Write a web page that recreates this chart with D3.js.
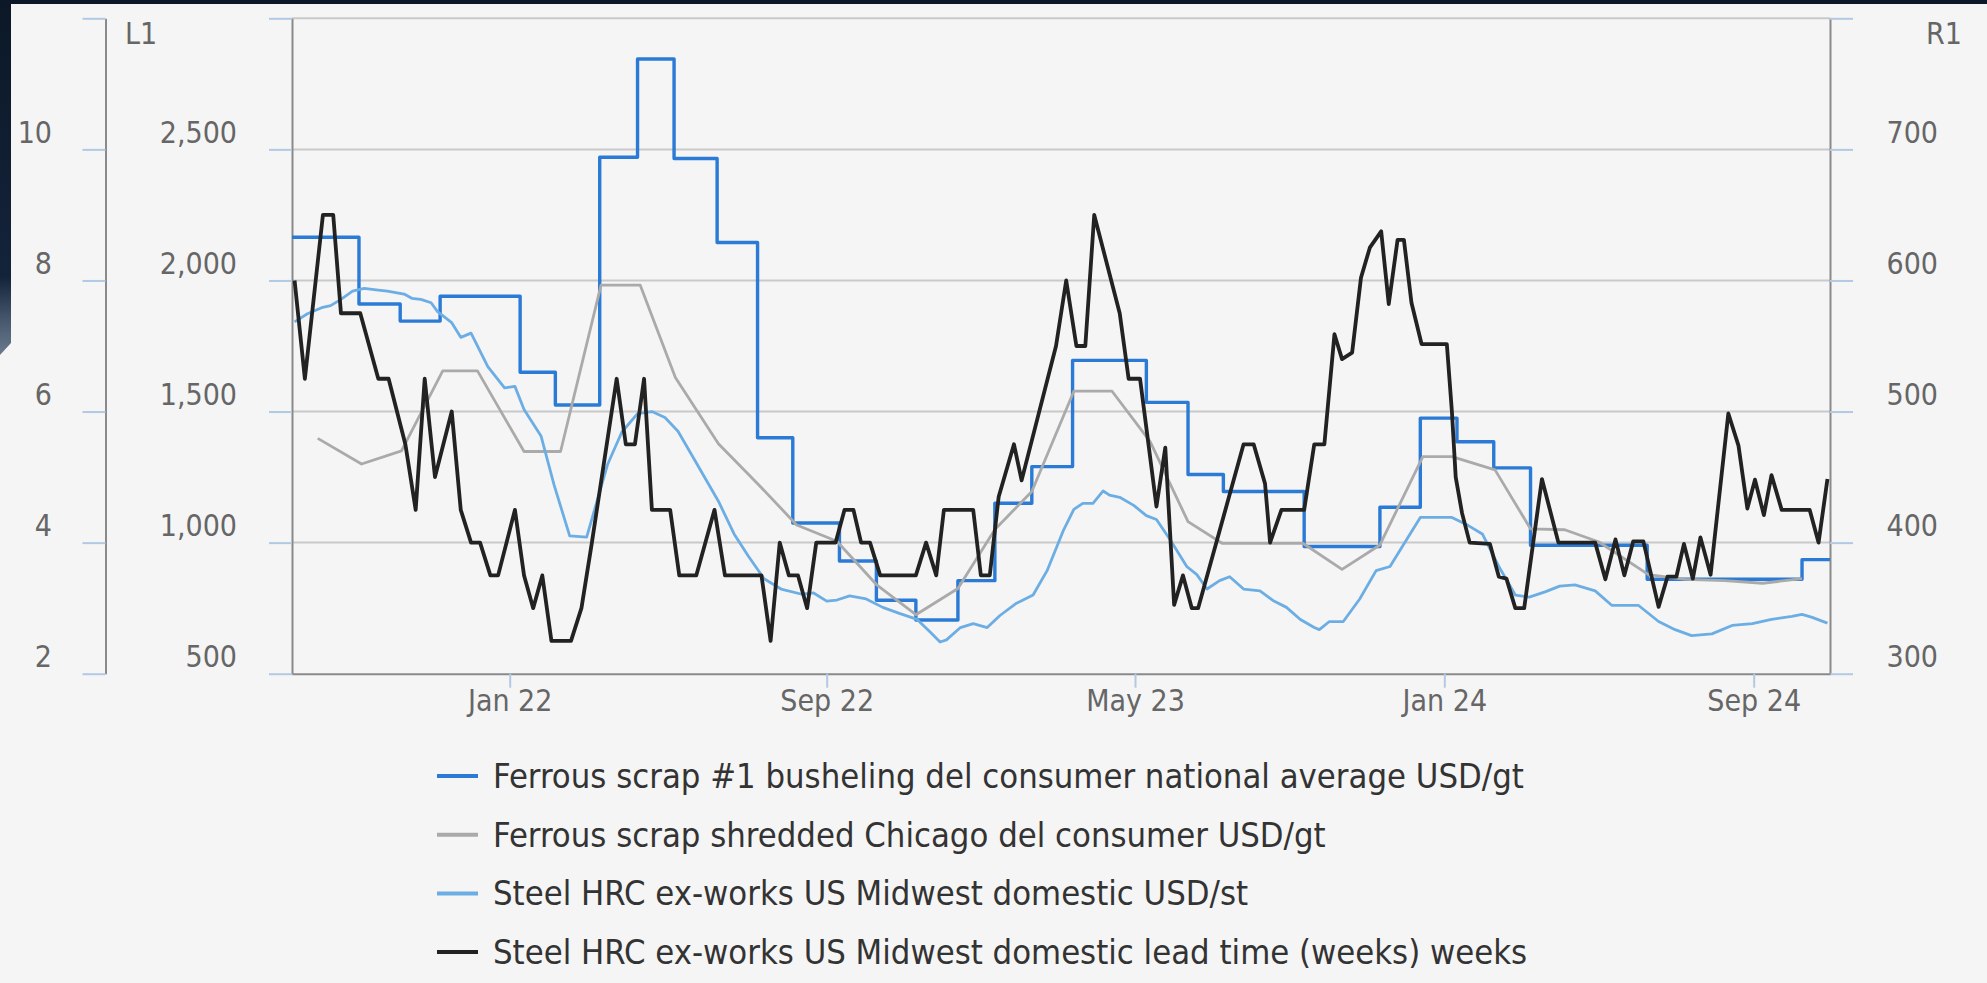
<!DOCTYPE html>
<html lang="en">
<head>
<meta charset="utf-8">
<title>Ferrous scrap vs steel HRC</title>
<script src="https://d3js.org/d3.v7.min.js"></script>
<style>
  body { margin: 0; background: #0c1827; overflow: hidden; }
  #chart { position: absolute; left: 0; top: 0; }
  svg text { font-family: "DejaVu Sans Condensed", "DejaVu Sans", sans-serif; font-stretch: condensed; }
</style>
</head>
<body>
<div id="chart"></div>
<script>
// ---- data ----
const xTicks = ["2022-01-01", "2022-09-01", "2023-05-01", "2024-01-01", "2024-09-01"];
const weekTicks = [2, 4, 6, 8, 10, 12];
const leftTicks = [500, 1000, 1500, 2000, 2500, 3000];
const rightTicks = [300, 400, 500, 600, 700, 800];

// Ferrous scrap #1 busheling, USD/gt (R1), monthly settle
const busheling = [
  ["2021-07-16", 633], ["2021-09-06", 582], ["2021-10-08", 569], ["2021-11-08", 588],
  ["2022-01-09", 530], ["2022-02-05", 505], ["2022-03-11", 694], ["2022-04-09", 769],
  ["2022-05-07", 693], ["2022-06-09", 629], ["2022-07-10", 480], ["2022-08-06", 415],
  ["2022-09-11", 386], ["2022-10-10", 356], ["2022-11-10", 341], ["2022-12-13", 371],
  ["2023-01-11", 430], ["2023-02-09", 458], ["2023-03-13", 539], ["2023-05-10", 507],
  ["2023-06-12", 452], ["2023-07-10", 439], ["2023-09-12", 397], ["2023-11-11", 427],
  ["2023-12-13", 495], ["2024-01-11", 477], ["2024-02-09", 457], ["2024-03-09", 398],
  ["2024-06-09", 372], ["2024-10-09", 387], ["2024-10-31", 387]
];

// Ferrous scrap shredded Chicago, USD/gt (R1)
const shredded = [
  ["2021-08-05", 479.5], ["2021-09-08", 460], ["2021-10-09", 470], ["2021-11-10", 531],
  ["2021-12-07", 531], ["2022-01-12", 469.5], ["2022-02-09", 469.5], ["2022-03-12", 596.5],
  ["2022-04-11", 596.5], ["2022-05-08", 526], ["2022-06-10", 475.5], ["2022-07-11", 444],
  ["2022-08-09", 413.5], ["2022-09-09", 401], ["2022-10-10", 368], ["2022-11-10", 345],
  ["2022-12-13", 365], ["2023-01-11", 410], ["2023-02-09", 439], ["2023-03-14", 515.5],
  ["2023-04-13", 515.5], ["2023-05-13", 477], ["2023-06-12", 416], ["2023-07-09", 399.5],
  ["2023-08-10", 399.5], ["2023-09-11", 399.5], ["2023-10-12", 379.6], ["2023-11-11", 398.2],
  ["2023-12-15", 465.6], ["2024-01-07", 465.6], ["2024-02-10", 455.5], ["2024-03-09", 410.5],
  ["2024-04-05", 409.8], ["2024-05-02", 400.5], ["2024-06-10", 375.6], ["2024-07-09", 372],
  ["2024-08-09", 371], ["2024-09-08", 369], ["2024-10-09", 372.5]
];

// Steel HRC ex-works US Midwest domestic, USD/st (L1)
const hrc = [
  ["2021-07-18", 1842], ["2021-07-28", 1873], ["2021-08-08", 1896], ["2021-08-15", 1904],
  ["2021-08-23", 1928], ["2021-09-01", 1959], ["2021-09-10", 1970], ["2021-09-21", 1963],
  ["2021-09-28", 1959], ["2021-10-11", 1948], ["2021-10-17", 1932], ["2021-10-24", 1928],
  ["2021-11-01", 1915], ["2021-11-06", 1881], ["2021-11-17", 1839], ["2021-11-24", 1783],
  ["2021-12-02", 1799], ["2021-12-15", 1671], ["2021-12-28", 1590], ["2022-01-05", 1596],
  ["2022-01-12", 1508], ["2022-01-25", 1407], ["2022-02-04", 1220], ["2022-02-16", 1026],
  ["2022-03-01", 1021], ["2022-03-08", 1142], ["2022-03-17", 1298], ["2022-03-28", 1422],
  ["2022-04-09", 1492], ["2022-04-20", 1500], ["2022-04-30", 1477], ["2022-05-10", 1425],
  ["2022-05-23", 1313], ["2022-06-10", 1158], ["2022-06-22", 1033], ["2022-07-03", 948],
  ["2022-07-15", 862], ["2022-07-28", 823], ["2022-08-13", 803], ["2022-08-22", 808],
  ["2022-09-01", 777], ["2022-09-09", 781], ["2022-09-19", 797], ["2022-10-02", 785],
  ["2022-10-15", 753], ["2022-10-28", 730], ["2022-11-11", 707], ["2022-11-21", 660],
  ["2022-11-29", 621], ["2022-12-04", 629], ["2022-12-15", 676], ["2022-12-25", 691],
  ["2023-01-05", 676], ["2023-01-15", 722], ["2023-01-28", 769], ["2023-02-10", 800],
  ["2023-02-21", 893], ["2023-03-06", 1049], ["2023-03-14", 1127], ["2023-03-21", 1150],
  ["2023-03-29", 1150], ["2023-04-06", 1197], ["2023-04-11", 1181], ["2023-04-19", 1173],
  ["2023-04-30", 1142], ["2023-05-10", 1103], ["2023-05-18", 1088], ["2023-05-29", 1010],
  ["2023-06-11", 909], ["2023-06-19", 878], ["2023-06-27", 823], ["2023-07-07", 855],
  ["2023-07-15", 870], ["2023-07-26", 823], ["2023-08-08", 816], ["2023-08-19", 777],
  ["2023-08-29", 753], ["2023-09-09", 707], ["2023-09-20", 676], ["2023-09-24", 668],
  ["2023-10-02", 699], ["2023-10-13", 699], ["2023-10-26", 785], ["2023-11-08", 893],
  ["2023-11-19", 909], ["2023-11-29", 987], ["2023-12-13", 1096], ["2024-01-07", 1096],
  ["2024-01-20", 1065], ["2024-01-31", 1033], ["2024-02-13", 909], ["2024-02-26", 800],
  ["2024-03-08", 792], ["2024-03-21", 813], ["2024-04-01", 834], ["2024-04-13", 839],
  ["2024-04-29", 816], ["2024-05-12", 761], ["2024-06-02", 761], ["2024-06-18", 699],
  ["2024-07-01", 668], ["2024-07-14", 645], ["2024-07-30", 652], ["2024-08-15", 684],
  ["2024-08-31", 691], ["2024-09-15", 707], ["2024-10-01", 719], ["2024-10-09", 726],
  ["2024-10-17", 715], ["2024-10-29", 693]
];

// Steel HRC lead time, weeks (outer left axis)
const leadTime = [
  ["2021-07-18", 8.0], ["2021-07-26", 6.5], ["2021-08-09", 9.0], ["2021-08-17", 9.0],
  ["2021-08-23", 7.5], ["2021-09-07", 7.5], ["2021-09-21", 6.5], ["2021-09-29", 6.5],
  ["2021-10-12", 5.5], ["2021-10-20", 4.5], ["2021-10-27", 6.5], ["2021-11-04", 5.0],
  ["2021-11-17", 6.0], ["2021-11-24", 4.5], ["2021-12-02", 4.0], ["2021-12-09", 4.0],
  ["2021-12-17", 3.5], ["2021-12-23", 3.5], ["2022-01-05", 4.5], ["2022-01-12", 3.5],
  ["2022-01-19", 3.0], ["2022-01-26", 3.5], ["2022-02-02", 2.5], ["2022-02-17", 2.5],
  ["2022-02-25", 3.0], ["2022-03-05", 4.0], ["2022-03-24", 6.5], ["2022-03-31", 5.5],
  ["2022-04-07", 5.5], ["2022-04-14", 6.5], ["2022-04-20", 4.5], ["2022-05-04", 4.5],
  ["2022-05-11", 3.5], ["2022-05-24", 3.5], ["2022-06-07", 4.5], ["2022-06-15", 3.5],
  ["2022-07-13", 3.5], ["2022-07-20", 2.5], ["2022-07-27", 4.0], ["2022-08-03", 3.5],
  ["2022-08-10", 3.5], ["2022-08-17", 3.0], ["2022-08-24", 4.0], ["2022-09-08", 4.0],
  ["2022-09-15", 4.5], ["2022-09-22", 4.5], ["2022-09-28", 4.0], ["2022-10-05", 4.0],
  ["2022-10-13", 3.5], ["2022-11-10", 3.5], ["2022-11-18", 4.0], ["2022-11-26", 3.5],
  ["2022-12-02", 4.5], ["2022-12-25", 4.5], ["2022-12-31", 3.5], ["2023-01-07", 3.5],
  ["2023-01-14", 4.7], ["2023-01-26", 5.5], ["2023-02-01", 4.95], ["2023-02-28", 7.0],
  ["2023-03-08", 8.0], ["2023-03-16", 7.0], ["2023-03-23", 7.0], ["2023-03-30", 9.0],
  ["2023-04-19", 7.5], ["2023-04-26", 6.5], ["2023-05-05", 6.5], ["2023-05-18", 4.55],
  ["2023-05-25", 5.45], ["2023-06-01", 3.05], ["2023-06-08", 3.5], ["2023-06-15", 3.0],
  ["2023-06-20", 3.0], ["2023-07-26", 5.5], ["2023-08-03", 5.5], ["2023-08-12", 4.9],
  ["2023-08-16", 4.0], ["2023-08-25", 4.5], ["2023-09-12", 4.5], ["2023-09-20", 5.5],
  ["2023-09-28", 5.5], ["2023-10-06", 7.18], ["2023-10-12", 6.8], ["2023-10-20", 6.9],
  ["2023-10-27", 8.04], ["2023-11-03", 8.5], ["2023-11-12", 8.75], ["2023-11-18", 7.64],
  ["2023-11-25", 8.62], ["2023-11-30", 8.62], ["2023-12-06", 7.66], ["2023-12-14", 7.03],
  ["2024-01-03", 7.03], ["2024-01-07", 6.0], ["2024-01-10", 5.0], ["2024-01-15", 4.45],
  ["2024-01-21", 4.0], ["2024-02-06", 3.98], ["2024-02-13", 3.48], ["2024-02-19", 3.45],
  ["2024-02-26", 3.0], ["2024-03-04", 3.0], ["2024-03-18", 4.97], ["2024-03-31", 4.0],
  ["2024-04-29", 4.0], ["2024-05-07", 3.44], ["2024-05-15", 4.05], ["2024-05-22", 3.5],
  ["2024-05-29", 4.02], ["2024-06-06", 4.02], ["2024-06-18", 3.02], ["2024-06-25", 3.48],
  ["2024-07-02", 3.48], ["2024-07-08", 3.98], ["2024-07-15", 3.45], ["2024-07-21", 4.08],
  ["2024-07-29", 3.51], ["2024-08-12", 5.97], ["2024-08-20", 5.48], ["2024-08-27", 4.52],
  ["2024-09-02", 4.96], ["2024-09-09", 4.42], ["2024-09-15", 5.03], ["2024-09-23", 4.5],
  ["2024-10-15", 4.5], ["2024-10-22", 4.0], ["2024-10-29", 4.97]
];

const seriesNames = [
  "Ferrous scrap #1 busheling del consumer national average USD/gt",
  "Ferrous scrap shredded Chicago del consumer USD/gt",
  "Steel HRC ex-works US Midwest domestic USD/st",
  "Steel HRC ex-works US Midwest domestic lead time (weeks) weeks"
];
const colors = ["#2b7bd6", "#aaaaaa", "#6caee4", "#222222"];

// ---- layout ----
const W = 1987, H = 983;
const plot = { left: 292, right: 1830, top: 18.3, bottom: 673.7 };
const tickFont = 30;

const parse = d3.utcParse("%Y-%m-%d");

// the source axis is not quite linear in time, so the time scale is pinned at its labelled ticks
const x = d3.scaleUtc()
  .domain(["2021-07-16", ...xTicks, "2024-10-31"].map(parse))
  .range([plot.left, 509.7, 826.7, 1135, 1444.3, 1753.7, plot.right]);
const yW = d3.scaleLinear().domain([2, 12]).range([plot.bottom, plot.top]);
const yL = d3.scaleLinear().domain([500, 3000]).range([plot.bottom, plot.top]);
const yR = d3.scaleLinear().domain([300, 800]).range([plot.bottom, plot.top]);

const svg = d3.select("#chart").append("svg")
  .attr("width", W).attr("height", H);

// page backdrop: light panel, dark strip down the top of the left edge
const grad = svg.append("defs").append("linearGradient")
  .attr("id", "edge").attr("x1", 0).attr("x2", 0).attr("y1", 0).attr("y2", 1);
grad.selectAll("stop")
  .data([[0, "#0c1827"], [0.78, "#13233a"], [0.9, "#46576d"], [1, "#6b7a8d"]])
  .join("stop")
  .attr("offset", d => d[0]).attr("stop-color", d => d[1]);

svg.append("rect")
  .attr("x", 0).attr("y", 4)
  .attr("width", W).attr("height", H - 4)
  .attr("fill", "#f5f5f5");
svg.append("path")
  .attr("d", "M0,0H11V343L0,355Z")
  .attr("fill", "url(#edge)");

// grid
svg.append("g").selectAll("line").data(rightTicks.slice(1)).join("line")
  .attr("x1", plot.left).attr("x2", plot.right)
  .attr("y1", d => yR(d)).attr("y2", d => yR(d))
  .attr("stroke", "#c9c9c9").attr("stroke-width", 2);

function styleAxis(g, labelX, labelY, anchor) {
  g.attr("font-family", null).attr("font-size", tickFont);
  g.select(".domain").attr("stroke", "#8a8a8a").attr("stroke-width", 2);
  g.selectAll(".tick line").attr("stroke", "#b2c9e3").attr("stroke-width", 2);
  g.selectAll(".tick text")
    .attr("fill", "#666")
    .attr("x", labelX).attr("y", labelY).attr("dy", null)
    .attr("dominant-baseline", "central")
    .attr("text-anchor", anchor);
}

const fmt = d3.format(",");
const hideTop = (ticks, f) => d => d === ticks[ticks.length - 1] ? "" : f(d);

// outer left axis (weeks)
svg.append("g").attr("transform", "translate(105.5,0)")
  .call(d3.axisLeft(yW).tickValues(weekTicks).tickSize(23).tickSizeOuter(0)
    .tickFormat(hideTop(weekTicks, d => d)))
  .call(g => styleAxis(g, -53.5, -17.5, "end"));

// inner left axis (L1)
svg.append("g").attr("transform", `translate(${plot.left},0)`)
  .call(d3.axisLeft(yL).tickValues(leftTicks).tickSize(23).tickSizeOuter(0)
    .tickFormat(hideTop(leftTicks, fmt)))
  .call(g => styleAxis(g, -55, -17.5, "end"));

// right axis (R1)
svg.append("g").attr("transform", `translate(${plot.right},0)`)
  .call(d3.axisRight(yR).tickValues(rightTicks).tickSize(23).tickSizeOuter(0)
    .tickFormat(hideTop(rightTicks, fmt)))
  .call(g => styleAxis(g, 108, -17.5, "end"));

// x axis
svg.append("g").attr("transform", `translate(0,${plot.bottom})`)
  .call(d3.axisBottom(x).tickValues(xTicks.map(parse)).tickSize(14).tickSizeOuter(0)
    .tickFormat(d3.utcFormat("%b %y")))
  .call(g => styleAxis(g, 0, 27, "middle"));

svg.append("text").attr("x", 125).attr("y", 33)
  .attr("dominant-baseline", "central").attr("font-size", tickFont).attr("fill", "#666")
  .text("L1");
svg.append("text").attr("x", 1962).attr("y", 33).attr("text-anchor", "end")
  .attr("dominant-baseline", "central").attr("font-size", tickFont).attr("fill", "#666")
  .text("R1");

// series
const lineOf = (yScale, curve) => d3.line()
  .x(d => x(parse(d[0])))
  .y(d => yScale(d[1]))
  .curve(curve);

const series = [
  { data: busheling, path: lineOf(yR, d3.curveStepAfter), width: 3.4 },
  { data: shredded, path: lineOf(yR, d3.curveLinear), width: 2.8 },
  { data: hrc, path: lineOf(yL, d3.curveLinear), width: 2.8 },
  { data: leadTime, path: lineOf(yW, d3.curveLinear), width: 3.8 }
];

svg.append("g").selectAll("path").data(series).join("path")
  .attr("d", d => d.path(d.data))
  .attr("fill", "none")
  .attr("stroke", (d, i) => colors[i])
  .attr("stroke-width", d => d.width)
  .attr("stroke-linejoin", "round");

// legend
const legend = svg.append("g").attr("transform", "translate(437,776)");
const item = legend.selectAll("g").data(seriesNames).join("g")
  .attr("transform", (d, i) => `translate(0,${i * 58.7})`);
item.append("line")
  .attr("x1", 0).attr("x2", 41)
  .attr("stroke", (d, i) => colors[i]).attr("stroke-width", 4);
item.append("text")
  .attr("x", 56).attr("y", 12)
  .attr("font-size", 34.3).attr("fill", "#333")
  .text(d => d);
</script>
</body>
</html>
